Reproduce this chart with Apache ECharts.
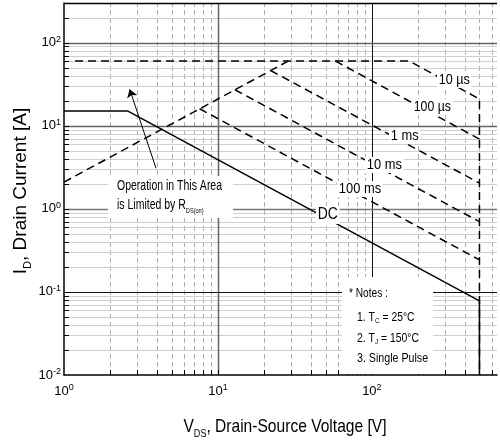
<!DOCTYPE html>
<html><head><meta charset="utf-8">
<script src="https://cdn.jsdelivr.net/npm/echarts@6/dist/echarts.min.js"></script>
<style>html,body{margin:0;padding:0;background:#fff}#c{width:500px;height:443px}</style>
</head><body><div id="c"></div>
<script>
// ---- axis ranges & tick values ----
const X_MIN = 1, X_MAX = 650, Y_MIN = 0.01, Y_MAX = 300;
const xMajor = [10, 100];
const xMinor = [2,3,4,5,6,7,8,9,20,30,40,50,60,70,80,90,200,300,400,500,600];
const yMajor = [0.1, 1, 10, 100];
const yMinor = [0.02,0.03,0.04,0.05,0.06,0.07,0.08,0.09,0.2,0.3,0.4,0.5,0.6,0.7,0.8,0.9,
                2,3,4,5,6,7,8,9,20,30,40,50,60,70,80,90,200];
// ---- SOA curves [V_DS, I_D] ----
const dcLine   = [[1,15],[2.6,15],[500,0.078],[500,0.01]];
const rdsLine  = [[1,2.1],[28.6,60]];
const us10Line = [[1.18,60],[175,60],[500,21],[500,0.01]];
const us100Line= [[58,60],[500,6.9]];
const ms1Line  = [[22,46.2],[500,2.04]];
const ms10Line = [[12.9,27.1],[500,0.7]];
const ms100Line= [[7.6,16],[500,0.243]];
const arrowTail = [3.96,3.08], arrowHead = [2.67,27.5];

const FF = "'Liberation Sans', Arial, Helvetica, sans-serif";
const chart = echarts.init(document.getElementById('c'), null, {renderer:'canvas'});

function crisp(v){ return Math.round(v) + 0.5; }
function vLines(vals, style){
  return {type:'custom', silent:true, z:1, animation:false, clip:false,
    data: vals.map(v=>[v, Y_MIN]),
    renderItem:(p, api)=>{
      const v = api.value(0);
      const a = api.coord([v, Y_MIN]), b = api.coord([v, Y_MAX]);
      const x = crisp(a[0]);
      return {type:'line', shape:{x1:x, y1:a[1], x2:x, y2:b[1]}, style:Object.assign({}, style)};
    }};
}
function hLines(vals, style){
  return {type:'custom', silent:true, z:1, animation:false, clip:false,
    data: vals.map(v=>[X_MIN, v]),
    renderItem:(p, api)=>{
      const v = api.value(1);
      const a = api.coord([X_MIN, v]), b = api.coord([X_MAX, v]);
      const y = crisp(a[1]);
      return {type:'line', shape:{x1:a[0], y1:y, x2:b[0], y2:y}, style:Object.assign({}, style)};
    }};
}
function xTicks(vals){
  return {type:'custom', silent:true, z:4, animation:false, clip:false,
    data: vals.map(v=>[v, Y_MIN]),
    renderItem:(p, api)=>{
      const a = api.coord([api.value(0), Y_MIN]); const x = crisp(a[0]);
      return {type:'line', shape:{x1:x, y1:a[1], x2:x, y2:a[1]-5}, style:{stroke:'#000', lineWidth:1}};
    }};
}
function yTicks(vals){
  return {type:'custom', silent:true, z:4, animation:false, clip:false,
    data: vals.map(v=>[X_MIN, v]),
    renderItem:(p, api)=>{
      const a = api.coord([X_MIN, api.value(1)]); const y = crisp(a[1]);
      return {type:'line', shape:{x1:a[0], y1:y, x2:a[0]+5, y2:y}, style:{stroke:'#000', lineWidth:1}};
    }};
}
function curve(data, dashed){
  return {type:'line', data, symbol:'none', silent:true, animation:false, z:3,
    lineStyle:{color:'#000', width:1.5, type: dashed ? [8,5] : 'solid'}};
}
function powLabel(v){
  const e = Math.log10(v);
  if (Math.abs(e - Math.round(e)) > 1e-6) return '';
  return '{a|10}{b|' + Math.round(e) + '}';
}
const labelRich = {
  a:{fontSize:13, lineHeight:16, color:'#000', fontFamily:FF},
  b:{fontSize:9, lineHeight:9, verticalAlign:'top', color:'#000', fontFamily:FF}
};

function txt(x, y, text, opts){
  opts = opts || {};
  return {type:'text', x, y, z:100, scaleX: opts.scaleX || 1, rotation: opts.rotation || 0,
    style:{text, fontSize: opts.fontSize || 14, fontFamily:FF, fill:'#000',
      align: opts.align || 'left', textAlign: opts.align || 'left',
      verticalAlign:'middle', textVerticalAlign:'middle',
      backgroundColor: opts.bg || null, padding: opts.bg ? [1,2] : 0,
      rich: opts.rich}};
}
const subRich = (fs, sfs, lh) => ({
  m:{fontSize:fs, lineHeight:lh, fontFamily:FF, fill:'#000', color:'#000'},
  s:{fontSize:sfs, lineHeight:sfs+1, verticalAlign:'bottom', fontFamily:FF, fill:'#000', color:'#000'}
});

chart.setOption({
  animation:false,
  backgroundColor:'#fff',
  grid:{left:64, right:0, top:3, bottom:68, show:false},
  xAxis:{type:'log', logBase:10, min:X_MIN, max:X_MAX,
    axisLine:{show:true, lineStyle:{color:'#000', width:1.5}},
    axisTick:{show:false}, splitLine:{show:false}, minorTick:{show:false},
    axisLabel:{margin:8, formatter:powLabel, rich:labelRich, color:'#000', fontFamily:FF}},
  yAxis:{type:'log', logBase:10, min:Y_MIN, max:Y_MAX,
    axisLine:{show:true, lineStyle:{color:'#000', width:1.5}},
    axisTick:{show:false}, splitLine:{show:false}, minorTick:{show:false},
    axisLabel:{margin:3, formatter:powLabel, rich:labelRich, color:'#000', fontFamily:FF}},
  series:[
    vLines(xMinor, {stroke:'#b0b0b0', lineWidth:1, lineDash:[5,3]}),
    hLines(yMinor, {stroke:'#cfcfcf', lineWidth:1}),
    vLines([10], {stroke:'#666', lineWidth:1.5}),
    vLines([100], {stroke:'#111', lineWidth:1}),
    hLines([100, 10], {stroke:'#666', lineWidth:1.5}),
    hLines([1], {stroke:'#777', lineWidth:1.5}),
    hLines([0.1], {stroke:'#111', lineWidth:1}),
    hLines([Y_MAX], {stroke:'#000', lineWidth:1.5}),
    xTicks(xMinor.concat(xMajor)),
    yTicks(yMinor.concat(yMajor)),
    curve(dcLine, false),
    curve(rdsLine, true),
    curve(us10Line, true),
    curve(us100Line, true),
    curve(ms1Line, true),
    curve(ms10Line, true),
    curve(ms100Line, true),
    {type:'line', data:[], silent:true, z:5,
      markLine:{silent:true, animation:false, symbol:['none','arrow'], symbolSize:8,
        label:{show:false}, lineStyle:{color:'#000', width:1, type:'solid'},
        data:[[{coord:arrowTail}, {coord:arrowHead}]]}}
  ],
  graphic:[
    {type:'rect', z:99, shape:{x:108, y:176, width:125, height:42}, style:{fill:'#fff'}},
    {type:'rect', z:99, shape:{x:342, y:277, width:91, height:97}, style:{fill:'#fff'}},
    txt(117, 186, 'Operation in This Area', {fontSize:15, scaleX:0.7}),
    txt(117, 205, '{m|is Limited by R}{s|DS(on)}', {scaleX:0.7, rich:subRich(15, 8, 19)}),
    txt(437, 80, '10 µs', {fontSize:14, scaleX:0.9, bg:'#fff'}),
    txt(412, 107, '100 µs', {fontSize:14, scaleX:0.88, bg:'#fff'}),
    txt(389, 136, '1 ms', {fontSize:14, scaleX:0.92, bg:'#fff'}),
    txt(365, 165, '10 ms', {fontSize:14, scaleX:0.92, bg:'#fff'}),
    txt(337, 189, '100 ms', {fontSize:14, scaleX:0.92, bg:'#fff'}),
    txt(316, 215, 'DC', {fontSize:16, scaleX:0.87, bg:'#fff'}),
    txt(349, 293, '* Notes :', {fontSize:13, scaleX:0.78}),
    txt(357, 317, '{m|1. T}{s|C}{m| = 25°C}', {scaleX:0.8, rich:subRich(13, 8, 16)}),
    txt(357, 338, '{m|2. T}{s|J}{m| = 150°C}', {scaleX:0.8, rich:subRich(13, 8, 16)}),
    txt(357, 358, '3. Single Pulse', {fontSize:13, scaleX:0.82}),
    txt(285, 427, '{m|V}{s|DS}{m|, Drain-Source Voltage [V]}', {align:'center', scaleX:0.82, rich:subRich(19, 11, 24)}),
    txt(21, 191, '{m|I}{s|D}{m|, Drain Current [A]}', {align:'center', rotation:Math.PI/2, rich:subRich(19, 11, 24)})
  ]
});
</script></body></html>
